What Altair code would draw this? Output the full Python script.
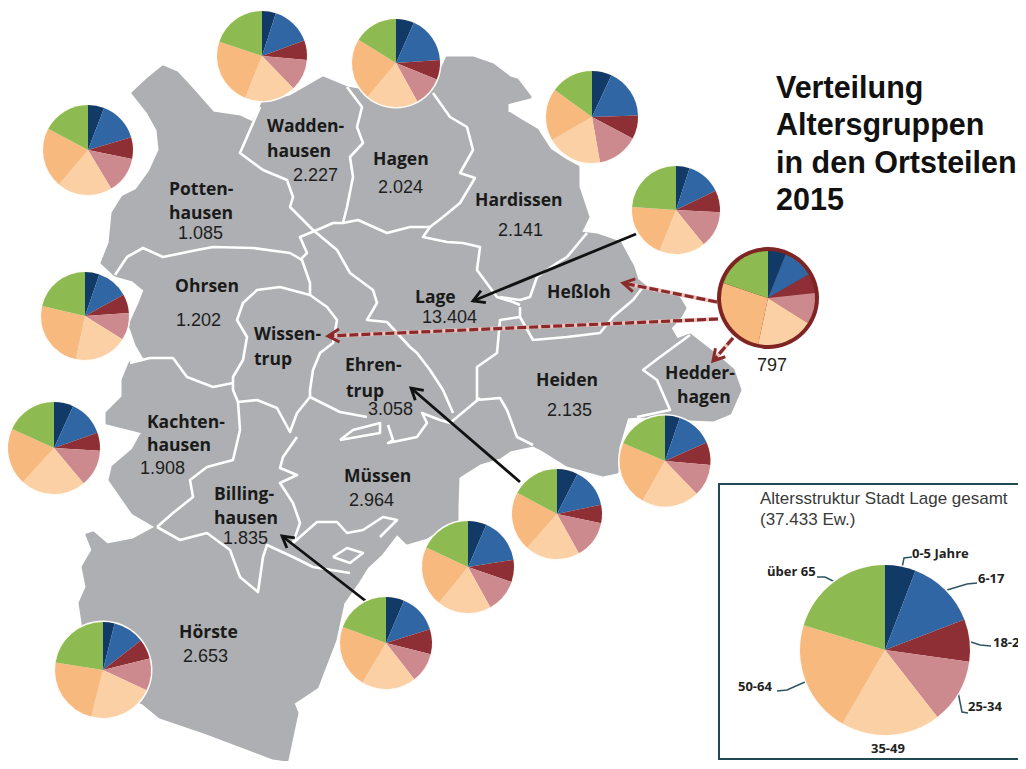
import math
import altair as alt
import pandas as pd

W, H = 1010, 753
X = alt.Scale(domain=[8, 1018])
Y = alt.Scale(domain=[761, 8])
GRAY = "#ADAFB2"
COLORS = ["#123A66", "#2F66A3", "#8E2F35", "#CD8A8E", "#FBD0A4", "#F8B97F", "#8DBB52"]

silhouette = [(102,263),(110,243),(113,213),(123,197),(137,190),(150,172),(160,150),(158,130),(148,112),(133,93),
 (147,80),(163,67),(177,73),(190,87),(213,113),(240,117),(253,123),(263,103),(290,97),(323,78),(347,88),(370,92),
 (410,92),(437,80),(447,58),(473,58),(493,65),(510,78),(517,80),(530,97),(507,103),(507,112),(520,120),(537,130),
 (550,150),(565,160),(578,167),(578,187),(588,217),(580,233),(597,235),(620,243),(633,267),(637,280),(653,293),
 (677,295),(685,308),(680,317),(670,328),(677,340),(690,335),(713,353),(733,370),(740,390),(730,413),(713,420),
 (665,418),(640,416),(627,417),(618,447),(617,472),(603,475),(567,465),(543,450),(533,445),(510,450),(500,457),
 (480,463),(458,477),(457,507),(457,520),(445,530),(433,533),(427,537),(407,543),(397,533),(380,555),(367,567),
 (357,583),(343,603),(335,640),(317,687),(293,703),(297,713),(287,760),(273,758),(207,733),(160,717),(143,703),
 (110,690),(83,640),(83,623),(80,603),(87,587),(83,567),(93,550),(87,535),(93,533),(107,545),(133,540),(157,527),
 (133,513),(110,480),(113,467),(133,450),(143,432),(107,423),(107,413),(123,397),(123,380),(130,363),(147,362),
 (137,345),(130,325),(140,303),(145,290),(133,280),(115,275),(102,263)]

borders = [
 [(260,107),(240,153),(263,170),(287,180),(293,197),(290,207),(313,230),(337,250),(350,273),(373,290),(377,303),(367,320),(387,322),(410,347),(417,353),(430,370),(443,390),(453,413)],
 [(347,87),(362,107),(357,127),(363,143),(350,157),(353,177),(347,207),(343,223),(358,220),(387,233),(410,227),(430,227),(423,237),(447,242),(463,243),(480,247),(477,270),(497,297),(513,302),(520,305)],
 [(343,223),(333,223),(317,230),(300,237),(307,253),(300,260)],
 [(433,93),(450,117),(467,127),(473,150),(460,173),(475,178),(460,203),(443,217),(430,227)],
 [(115,275),(127,257),(143,248),(163,257),(197,250),(213,247),(253,248),(290,253),(302,260),(310,283),(310,295)],
 [(310,295),(280,287),(257,290),(243,303),(237,320),(247,337),(243,360),(233,377),(233,390),(238,402),(257,400),(277,408),(290,432),(297,413),(310,397)],
 [(310,295),(327,307),(337,320),(333,343),(320,353),(313,370),(310,390),(310,397),(340,412),(367,417)],
 [(130,363),(150,358),(173,358),(187,377),(213,387),(233,383)],
 [(238,402),(240,430),(233,460),(207,467),(190,480),(193,497),(173,513),(157,527)],
 [(157,527),(180,540),(207,533),(230,550),(240,577),(258,592),(263,557),(267,545),(293,557),(313,567),(350,573)],
 [(297,437),(283,457),(280,468),(297,475),(280,483),(293,503),(300,523),(293,543),(317,522),(337,522),(347,533),(363,530),(383,517),(397,520),(380,537)],
 [(340,440),(353,430),(380,423),(380,433),(357,437),(340,440)],
 [(388,425),(393,440),(388,443),(417,437),(427,423),(422,413),(440,420),(450,423),(480,398)],
 [(333,557),(347,548),(363,553),(350,563),(333,557)],
 [(567,257),(587,233)],
 [(567,257),(557,263),(537,277),(530,297),(520,300),(500,297)],
 [(520,307),(520,317),(533,340),(567,337),(600,333),(613,317),(633,300),(643,287)],
 [(520,317),(500,320),(497,353),(477,367),(477,400),(500,398),(507,410),(517,437),(533,445)],
 [(690,335),(660,357),(643,370),(657,380),(667,403),(670,410),(637,417)],
]

solid_arrows = [((636,234),(473,301)), ((367,602),(282,536)), ((520,482),(411,388))]
dashed_arrows = [((717,302),(623,283)), ((718,319),(328,336)), ((733,338),(713,361))]

pies = [
 (262,56,45,[18,70,95,136,202,288.6]),
 (396,63,44,[24,86,112,151,220,302]),
 (88,150,45,[21,73.6,101.5,149,220,298]),
 (85,316,44,[19,61,86,122,192,283]),
 (54,448,46,[24.6,70.5,93.4,140,222.4,294.5]),
 (103,670,48,[14,52,76,115,194,279]),
 (386,643,46,[23,72.5,104,142,210.6,290.3]),
 (468,567,46,[23.4,81,109,151,219,295]),
 (557,514,45,[27,78,102,151,221.5,298]),
 (665,461,45.5,[19,66,95,136,209.5,293]),
 (592,117,46,[25,88,118,170,240,306]),
 (676,210,44,[18,64,93,141,202,274]),
 (768,298,47,[22,60,84,122,192,288.7]),
 (885,650,85,[21,69,98,142,210,287]),
]
ring = (768,298,51)

names = [("Wadden-",267,127),("hausen",267,152),("Hagen",373,160),("Potten-",169,190),("hausen",169,214),
 ("Hardissen",475,201),("Ohrsen",175,287),("Wissen-",254,335),("trup",254,360),("Lage",415,298),("Heßloh",547,293),
 ("Ehren-",345,366),("trup",346,392),("Heiden",536,381),("Hedder-",665,374),("hagen",677,398),("Kachten-",147,423),
 ("hausen",147,446),("Billing-",214,495),("hausen",214,519),("Müssen",344,477),("Hörste",179,633)]
numbers = [("2.227",293,176),("2.024",378,188),("1.085",178,234),("2.141",498,231),("1.202",176,321),("13.404",422,318),
 ("3.058",368,410),("2.135",547,411),("797",757,366),("1.908",140,469),("1.835",223,539),("2.964",349,501),("2.653",183,657)]
title = [("Verteilung",776,89),("Altersgruppen",776,126),("in den Ortsteilen",776,164),("2015",776,201)]
inset_title = [("Altersstruktur Stadt Lage gesamt",760,499),("(37.433 Ew.)",760,520)]
inset_labels = [("0-5 Jahre",912,554),("6-17",978,579),("18-2",993,643),("25-34",968,707),("35-49",871,749),("50-64",738,687),("über 65",767,572)]
leaders = [[(902,568),(904,558),(912,557)],[(947,590),(967,584),(977,583)],[(971,642),(980,645),(991,646)],
 [(958,692),(962,712),(968,713)],[(805,682),(787,690),(777,691)],[(835,582),(825,577),(817,577)]]

def feat(kind, coords):
    return {"type": "Feature", "properties": {}, "geometry": {"type": kind, "coordinates": coords}}
def line(pts):
    return feat("LineString", [list(p) for p in pts])
def head(tail, tip, L=13, a=30):
    ang = math.atan2(tail[1]-tip[1], tail[0]-tip[0])
    r = math.radians(a)
    return [(tip[0]+L*math.cos(ang+r), tip[1]+L*math.sin(ang+r)), tip, (tip[0]+L*math.cos(ang-r), tip[1]+L*math.sin(ang-r))]

proj = alt.Projection(type="identity", scale=1, translate=[-8, -8])
def geo(features, **kw):
    return alt.Chart(alt.Data(values=features)).mark_geoshape(**kw).project(**proj.to_dict())

base = geo([feat("Polygon", [[list(p) for p in silhouette]])], fill=GRAY, stroke=GRAY, strokeWidth=3, strokeJoin="round")
white_lines = geo([line(b) for b in borders], filled=False, stroke="white", strokeWidth=2.6, strokeJoin="round")

solid = geo([line(a) for a in solid_arrows] + [line(head(*a)) for a in solid_arrows], filled=False, stroke="#111111", strokeWidth=2.8)
dash_halo = geo([line(a) for a in dashed_arrows], filled=False, stroke="#E9C4C0", strokeWidth=4)
dashed = geo([line(a) for a in dashed_arrows], filled=False, stroke="#8B2A2A", strokeWidth=3.2, strokeDash=[9, 3])
heads = geo([line(head(*a)) for a in dashed_arrows], filled=False, stroke="#8B2A2A", strokeWidth=3)
lead = geo([line(l) for l in leaders], filled=False, stroke="#2E5560", strokeWidth=1.5)

rows, halos = [], []
for i, (cx, cy, r, ends) in enumerate(pies):
    halos.append({"x": cx, "y": cy, "t0": 0, "t1": 2*math.pi, "r": r+1.5})
    prev = 0
    for j, e in enumerate(ends + [360]):
        rows.append({"x": cx, "y": cy, "t0": math.radians(prev), "t1": math.radians(e), "r": r, "c": COLORS[j]})
        prev = e

def arcs(df, **kw):
    enc = dict(x=alt.X("x:Q", scale=X, axis=None), y=alt.Y("y:Q", scale=Y, axis=None),
               theta=alt.Theta("t0:Q", scale=None), theta2=alt.Theta2("t1:Q"), radius=alt.Radius("r:Q", scale=None))
    if "c" in df:
        enc["color"] = alt.Color("c:N", scale=None)
    return alt.Chart(df).mark_arc(**kw).encode(**enc)

halo_layer = arcs(pd.DataFrame(halos), fill="#FFFBF7")
ring_layer = arcs(pd.DataFrame([{"x": ring[0], "y": ring[1], "t0": 0, "t1": 2*math.pi, "r": ring[2]}]), fill="#7E2422")
pie_layer = arcs(pd.DataFrame(rows))

box = alt.Chart(pd.DataFrame([{"x": 719, "x2": 1040, "y": 484, "y2": 759}])).mark_rect(fill="white", stroke="#1F4A52", strokeWidth=2).encode(
    x=alt.X("x:Q", scale=X, axis=None), x2="x2:Q", y=alt.Y("y:Q", scale=Y, axis=None), y2="y2:Q")

def texts(items, **kw):
    df = pd.DataFrame(items, columns=["t", "x", "y"])
    return alt.Chart(df).mark_text(align="left", baseline="middle", **kw).encode(
        x=alt.X("x:Q", scale=X, axis=None), y=alt.Y("y:Q", scale=Y, axis=None), text="t:N")

chart = alt.layer(
    base, white_lines, box, solid, dash_halo, dashed, heads, lead, halo_layer, ring_layer, pie_layer,
    texts(names, font="Open Sans", fontWeight="bold", fontSize=17.5, color="#1A1A1A"),
    texts(numbers, font="Liberation Sans", fontSize=18, color="#1E1E1E"),
    texts(title, font="Liberation Sans", fontWeight="bold", fontSize=30.5, color="#111111"),
    texts(inset_title, font="Liberation Sans", fontSize=17, color="#3A3A3A"),
    texts(inset_labels, font="Open Sans", fontWeight="bold", fontSize=13, color="#222222"),
).properties(width=W, height=H, padding=0, autosize=alt.AutoSizeParams(type="none")).configure_view(stroke=None)

chart.save("out.html", embed_options={"renderer": "svg", "actions": False})
